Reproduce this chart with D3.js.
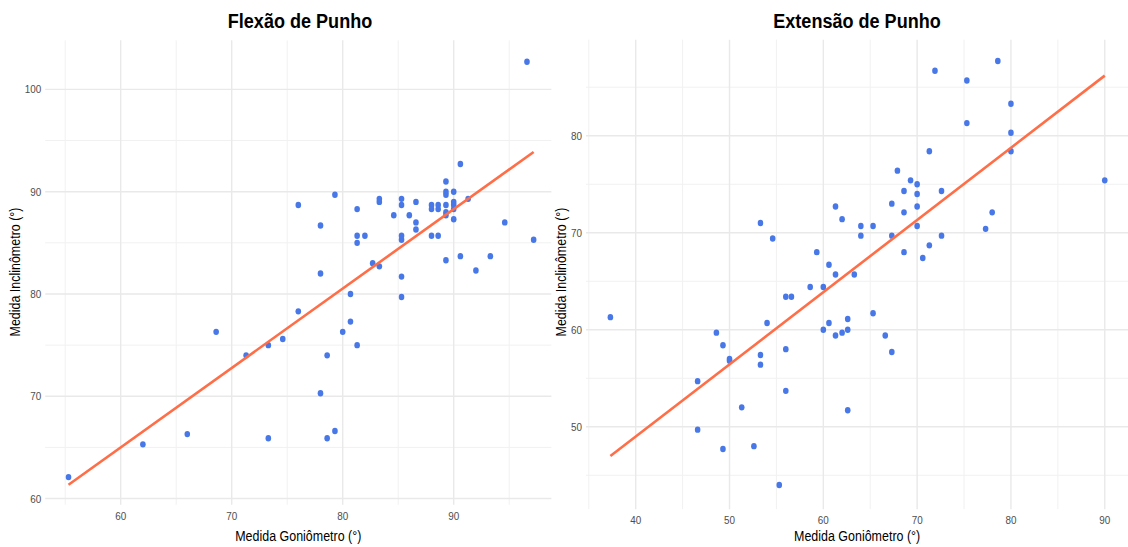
<!DOCTYPE html>
<html>
<head>
<meta charset="utf-8">
<script src="https://cdn.jsdelivr.net/npm/d3@7"></script>
<style>
  body { margin: 0; background: #fff; }
  svg { display: block; font-family: "Liberation Sans", Arial, sans-serif; }
</style>
</head>
<body>
<svg id="vis" width="1128" height="547"></svg>
<script>
// flexao de punho: goniometro (x) vs inclinometro (y)
const flexGonio = [55.3, 62.0, 66.0, 68.6, 71.3, 73.3, 73.3, 74.6, 76.0, 76.0,
  78.0, 78.0, 78.0, 78.6, 78.6, 79.3, 79.3, 80.0, 80.7, 80.7,
  81.3, 81.3, 81.3, 81.3, 82.0, 82.7, 83.3, 83.3, 83.3, 84.6,
  85.3, 85.3, 85.3, 85.3, 85.3, 85.3, 86.0, 86.6, 86.6, 86.6,
  88.0, 88.0, 88.0, 88.6, 88.6, 88.6, 89.3, 89.3, 89.3, 89.3,
  89.3, 89.3, 89.3, 90.0, 90.0, 90.0, 90.0, 90.0, 90.6, 90.6,
  91.3, 92.0, 93.3, 94.6, 96.6, 97.2];
const flexIncl = [62.1, 65.3, 66.3, 76.3, 74.0, 75.0, 65.9, 75.6, 78.3, 88.7,
  86.7, 82.0, 70.3, 74.0, 65.9, 66.6, 89.7, 76.3, 77.3, 80.0,
  88.3, 85.7, 85.0, 75.0, 85.7, 83.0, 89.3, 89.0, 82.7, 87.7,
  89.3, 88.7, 85.7, 85.3, 81.7, 79.7, 87.7, 89.0, 87.0, 86.3,
  88.7, 88.3, 85.7, 88.7, 88.3, 85.7, 91.0, 90.0, 89.7, 88.7,
  88.0, 87.7, 83.3, 90.0, 89.0, 88.7, 88.3, 87.3, 92.7, 83.7,
  89.3, 82.3, 83.7, 87.0, 102.7, 85.3];

// extensao de punho
const extGonio = [37.3, 46.6, 46.6, 48.6, 49.3, 49.3, 50.0, 50.0, 51.3, 52.6,
  53.3, 53.3, 53.3, 54.0, 54.6, 55.3, 56.0, 56.6, 56.0, 56.0,
  58.6, 59.3, 60.0, 60.0, 60.6, 60.6, 61.3, 61.3, 61.3, 62.0,
  62.0, 62.6, 62.6, 62.6, 63.3, 64.0, 64.0, 65.3, 65.3, 66.6,
  67.3, 67.3, 67.3, 67.9, 68.6, 68.6, 68.6, 69.3, 70.0, 70.0,
  70.0, 70.0, 70.6, 71.3, 71.3, 71.9, 72.6, 72.6, 75.3, 75.3,
  77.3, 78.0, 78.6, 80.0, 80.0, 80.0, 90.0];
const extIncl = [61.3, 54.7, 49.7, 59.7, 58.4, 47.7, 57.0, 56.8, 52.0, 48.0,
  71.0, 57.4, 56.4, 60.7, 69.4, 44.0, 63.4, 63.4, 58.0, 53.7,
  64.4, 68.0, 64.4, 60.0, 66.7, 60.7, 72.7, 65.7, 59.4, 71.4,
  59.7, 61.1, 60.0, 51.7, 65.7, 70.7, 69.7, 70.7, 61.7, 59.4,
  73.0, 69.7, 57.7, 76.4, 74.3, 72.1, 68.0, 75.4, 75.0, 74.0,
  72.7, 70.7, 67.4, 78.4, 68.7, 86.7, 74.3, 69.7, 85.7, 81.3,
  70.4, 72.1, 87.7, 83.3, 80.3, 78.4, 75.4];

const flexXTicks = [60, 70, 80, 90];
const flexYTicks = [60, 70, 80, 90, 100];
const extXTicks = [40, 50, 60, 70, 80, 90];
const extYTicks = [50, 60, 70, 80];

const xTitle = "Medida Goniômetro (°)";
const yTitle = "Medida Inclinômetro (°)";

const svg = d3.select("#vis");
const squeeze = 0.86; // the original text is a bit narrower than Liberation Sans

// least squares fit, like geom_smooth(method = "lm")
function linFit(xs, ys) {
  const mx = d3.mean(xs), my = d3.mean(ys);
  let sxy = 0, sxx = 0;
  for (let i = 0; i < xs.length; i++) {
    sxy += (xs[i] - mx) * (ys[i] - my);
    sxx += (xs[i] - mx) * (xs[i] - mx);
  }
  const b = sxy / sxx;
  return { a: my - b * mx, b: b };
}

function drawPanel(p) {
  const x = d3.scaleLinear().domain(p.xDomain).range(p.xRange);
  const y = d3.scaleLinear().domain(p.yDomain).range(p.yRange);
  const g = svg.append("g");

  // minor grid halfway between the ticks
  const xMinor = d3.range(p.xTicks[0] - 5, p.xDomain[1], 10).filter(v => v > p.xDomain[0]);
  const yMinor = d3.range(p.yTicks[0] - 5, p.yDomain[1], 10).filter(v => v > p.yDomain[0]);

  g.selectAll(".xminor").data(xMinor).enter().append("line")
    .attr("x1", d => x(d)).attr("x2", d => x(d))
    .attr("y1", p.yRange[0]).attr("y2", p.yRange[1])
    .attr("stroke", "#f1f1f1").attr("stroke-width", 1);
  g.selectAll(".yminor").data(yMinor).enter().append("line")
    .attr("y1", d => y(d)).attr("y2", d => y(d))
    .attr("x1", p.xRange[0]).attr("x2", p.xRange[1])
    .attr("stroke", "#f1f1f1").attr("stroke-width", 1);

  g.selectAll(".xmajor").data(p.xTicks).enter().append("line")
    .attr("x1", d => x(d)).attr("x2", d => x(d))
    .attr("y1", p.yRange[0]).attr("y2", p.yRange[1])
    .attr("stroke", "#e9e9e9").attr("stroke-width", 1.4);
  g.selectAll(".ymajor").data(p.yTicks).enter().append("line")
    .attr("y1", d => y(d)).attr("y2", d => y(d))
    .attr("x1", p.xRange[0]).attr("x2", p.xRange[1])
    .attr("stroke", "#e9e9e9").attr("stroke-width", 1.4);

  // tick labels
  g.selectAll(".xlab").data(p.xTicks).enter().append("text")
    .attr("transform", d => `translate(${x(d)},${p.yRange[0] + 15}) scale(${squeeze},1)`)
    .attr("text-anchor", "middle")
    .attr("font-size", 11.5).attr("fill", "#4d4d4d")
    .text(d => d);
  g.selectAll(".ylab").data(p.yTicks).enter().append("text")
    .attr("transform", d => `translate(${p.xRange[0] - 4},${y(d) + 4}) scale(${squeeze},1)`)
    .attr("text-anchor", "end")
    .attr("font-size", 11.5).attr("fill", "#4d4d4d")
    .text(d => d);

  const cx = (p.xRange[0] + p.xRange[1]) / 2;
  g.append("text")
    .attr("transform", `translate(${cx},541) scale(${squeeze},1)`)
    .attr("text-anchor", "middle").attr("font-size", 14.5)
    .text(xTitle);
  g.append("text")
    .attr("transform", `translate(${p.yTitleX},272) rotate(-90) scale(${squeeze},1)`)
    .attr("text-anchor", "middle").attr("font-size", 14.5)
    .text(yTitle);
  g.append("text")
    .attr("transform", `translate(${p.titleX},28) scale(${squeeze},1)`)
    .attr("text-anchor", "middle").attr("font-size", 21).attr("font-weight", "bold")
    .text(p.title);

  // points
  const pts = p.xs.map((v, i) => ({ x: v, y: p.ys[i] }));
  g.selectAll(".pt").data(pts).enter().append("ellipse")
    .attr("cx", d => x(d.x)).attr("cy", d => y(d.y))
    .attr("rx", 2.8).attr("ry", 3.2)
    .attr("fill", "#4878e8");

  // regression line over the data range
  const fit = linFit(p.xs, p.ys);
  const ext = d3.extent(p.xs);
  g.append("line")
    .attr("x1", x(ext[0])).attr("y1", y(fit.a + fit.b * ext[0]))
    .attr("x2", x(ext[1])).attr("y2", y(fit.a + fit.b * ext[1]))
    .attr("stroke", "#ff6e47").attr("stroke-width", 2.6);
}

drawPanel({
  title: "Flexão de Punho", titleX: 300,
  xs: flexGonio, ys: flexIncl,
  xTicks: flexXTicks, yTicks: flexYTicks,
  xDomain: [53.2, 98.8], xRange: [45.2, 551.4],
  yDomain: [59.4, 104.8], yRange: [504.7, 40.3],
  yTitleX: 20
});

drawPanel({
  title: "Extensão de Punho", titleX: 857,
  xs: extGonio, ys: extIncl,
  xTicks: extXTicks, yTicks: extYTicks,
  xDomain: [34.7, 92.5], xRange: [586, 1128.2],
  yDomain: [41.5, 89.9], yRange: [509.2, 39.7],
  yTitleX: 566
});
</script>
</body>
</html>
